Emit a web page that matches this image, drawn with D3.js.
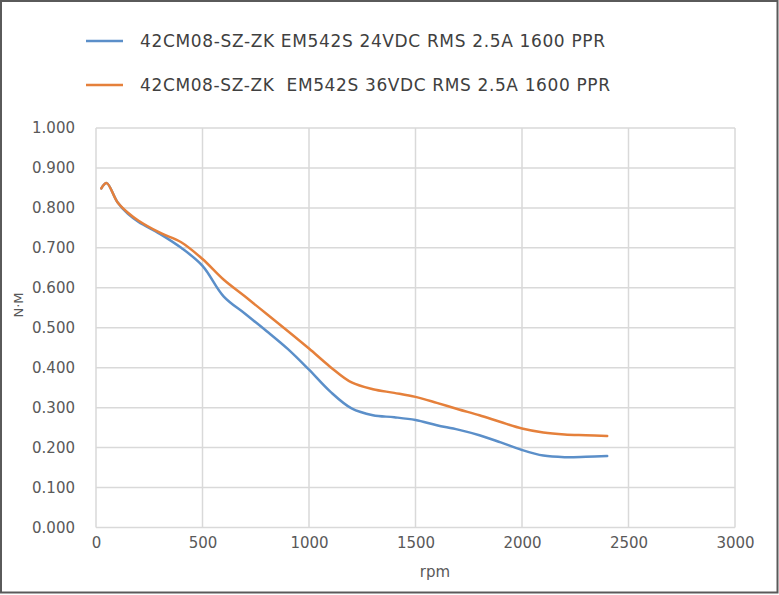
<!DOCTYPE html>
<html>
<head>
<meta charset="utf-8">
<script src="https://cdn.jsdelivr.net/npm/d3@7"></script>
<style>
  body { margin: 0; background: #fff; }
  svg { display: block; font-family: "DejaVu Sans", "Noto Sans", sans-serif; }
</style>
</head>
<body>
<svg id="chart"></svg>
<script>
// rpm sample points
const rpm = [25, 50, 100, 150, 200, 300, 400, 500, 600, 700, 800, 900, 1000, 1100,
  1200, 1300, 1400, 1500, 1600, 1700, 1800, 1900, 2000, 2100, 2200, 2300, 2400];

// torque, N·M
const torque24 = [0.849, 0.862, 0.815, 0.785, 0.765, 0.735, 0.700, 0.655, 0.578, 0.535,
  0.492, 0.447, 0.395, 0.340, 0.298, 0.281, 0.276, 0.269, 0.256, 0.245, 0.231, 0.213,
  0.194, 0.180, 0.176, 0.177, 0.179];
const torque36 = [0.849, 0.862, 0.815, 0.788, 0.768, 0.738, 0.714, 0.672, 0.620, 0.578,
  0.535, 0.492, 0.448, 0.402, 0.363, 0.346, 0.337, 0.327, 0.312, 0.296, 0.281, 0.264,
  0.248, 0.238, 0.233, 0.231, 0.229];

const seriesNames = [
  "42CM08-SZ-ZK EM542S 24VDC RMS 2.5A 1600 PPR",
  "42CM08-SZ-ZK\u00a0 EM542S 36VDC RMS 2.5A 1600 PPR"
];
const xTicks = [0, 500, 1000, 1500, 2000, 2500, 3000];
const yTicks = [0, 0.1, 0.2, 0.3, 0.4, 0.5, 0.6, 0.7, 0.8, 0.9, 1.0];

const width = 779;
const height = 595;
const margin = { top: 128, right: 44, bottom: 67.5, left: 96 };
const colors = ["#5b8fc9", "#e5803b"];

const svg = d3.select("#chart").attr("width", width).attr("height", height);

// outer frame
svg.append("rect")
  .attr("x", 1).attr("y", 1)
  .attr("width", width - 2.5).attr("height", height - 3.5)
  .attr("fill", "#fff")
  .attr("stroke", "#5a5a5a")
  .attr("stroke-width", 2);

const xScale = d3.scaleLinear().domain([0, 3000]).range([margin.left, width - margin.right]);
const yScale = d3.scaleLinear().domain([0, 1]).range([height - margin.bottom, margin.top]);

// gridlines
svg.append("g")
  .selectAll("line")
  .data(yTicks)
  .join("line")
  .attr("x1", xScale(0)).attr("x2", xScale(3000))
  .attr("y1", d => yScale(d)).attr("y2", d => yScale(d))
  .attr("stroke", "#d9d9d9").attr("stroke-width", 1.5);

svg.append("g")
  .selectAll("line")
  .data(xTicks)
  .join("line")
  .attr("x1", d => xScale(d)).attr("x2", d => xScale(d))
  .attr("y1", yScale(0)).attr("y2", yScale(1))
  .attr("stroke", "#d9d9d9").attr("stroke-width", 1.5);

// y axis labels
const yAxis = d3.axisLeft(yScale).tickValues(yTicks).tickFormat(d3.format(".3f")).tickSize(0).tickPadding(21);
svg.append("g")
  .attr("transform", `translate(${margin.left}, 0)`)
  .call(yAxis)
  .call(g => g.select(".domain").remove())
  .call(g => g.selectAll("text").attr("fill", "#595959").style("font-size", "15px")
    .style("font-family", "'DejaVu Sans', sans-serif"));

// x axis labels
const xAxis = d3.axisBottom(xScale).tickValues(xTicks).tickFormat(d3.format("d")).tickSize(0).tickPadding(10);
svg.append("g")
  .attr("transform", `translate(0, ${height - margin.bottom})`)
  .call(xAxis)
  .call(g => g.select(".domain").remove())
  .call(g => g.selectAll("text").attr("fill", "#595959").style("font-size", "15px")
    .style("font-family", "'DejaVu Sans', sans-serif"));

// axis titles
svg.append("text")
  .attr("x", 435).attr("y", 577)
  .attr("text-anchor", "middle")
  .attr("fill", "#595959")
  .style("font-size", "15px")
  .text("rpm");

svg.append("text")
  .attr("transform", "translate(23, 305) rotate(-90)")
  .attr("text-anchor", "middle")
  .attr("fill", "#595959")
  .style("font-size", "13px")
  .text("N·M");

// lines
const line = d3.line()
  .x(d => xScale(d[0]))
  .y(d => yScale(d[1]))
  .curve(d3.curveCatmullRom.alpha(0.5));

[torque24, torque36].forEach((vals, i) => {
  svg.append("path")
    .datum(rpm.map((r, j) => [r, vals[j]]))
    .attr("fill", "none")
    .attr("stroke", colors[i])
    .attr("stroke-width", 2.5)
    .attr("stroke-linejoin", "round")
    .attr("stroke-linecap", "round")
    .attr("d", line);
});

// legend
const legend = svg.append("g");
seriesNames.forEach((name, i) => {
  const y = 41 + i * 44;
  legend.append("line")
    .attr("x1", 86).attr("x2", 123)
    .attr("y1", y).attr("y2", y)
    .attr("stroke", colors[i]).attr("stroke-width", 2.5);
  legend.append("text")
    .attr("x", 140).attr("y", y + 6)
    .attr("fill", "#404040")
    .style("font-size", "17px")
    .attr("textLength", i === 0 ? 465 : 470)
    .attr("lengthAdjust", "spacing")
    .text(name);
});
</script>
</body>
</html>
